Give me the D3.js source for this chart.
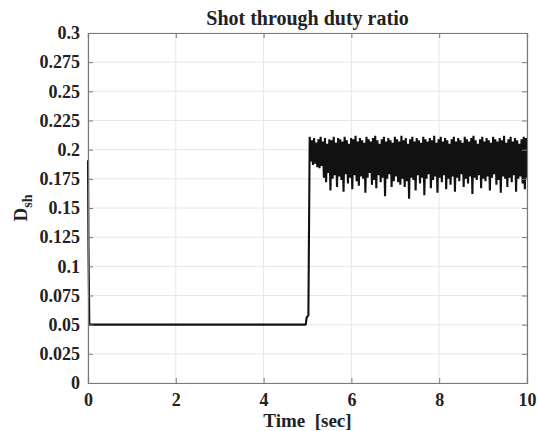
<!DOCTYPE html>
<html>
<head>
<meta charset="utf-8">
<script src="https://cdn.jsdelivr.net/npm/d3@7"></script>
<style>
  body { margin: 0; background: #fff; }
  text { font-family: "Liberation Serif", "Times New Roman", serif; font-weight: bold; fill: #222; }
</style>
</head>
<body>
<div id="chart"></div>
<script>
// start-up and step part of the trace: [time, value]
const stepTimes = [0, 0.01, 0.03, 4.96, 4.98, 5.02, 5.05];
const stepValues = [0.191, 0.12, 0.05, 0.05, 0.056, 0.058, 0.21];

// noisy part after the step, alternating peak / trough samples
const noiseStart = 5.05;
const noiseEnd = 10;
const noiseHigh = [
  0.211,0.208,0.210,0.206,0.209,0.211,0.207,0.210,0.205,0.209,
  0.208,0.211,0.206,0.210,0.209,0.207,0.211,0.208,0.205,0.210,
  0.209,0.212,0.207,0.210,0.208,0.206,0.211,0.209,0.207,0.210,
  0.212,0.208,0.205,0.209,0.211,0.207,0.210,0.208,0.206,0.211,
  0.209,0.207,0.212,0.208,0.210,0.205,0.209,0.211,0.207,0.210,
  0.208,0.206,0.211,0.209,0.207,0.210,0.208,0.212,0.206,0.209,
  0.211,0.207,0.210,0.208,0.205,0.209,0.211,0.207,0.210,0.208,
  0.206,0.211,0.209,0.207,0.210,0.212,0.208,0.205,0.209,0.211,
  0.207,0.210,0.208,0.206,0.211,0.209,0.207,0.210,0.208,0.212,
  0.206,0.209,0.211,0.207,0.210,0.208,0.205,0.209,0.211,0.210
];
const noiseLow = [
  0.190,0.187,0.188,0.185,0.184,0.186,0.176,0.172,0.180,0.165,
  0.175,0.178,0.168,0.177,0.174,0.164,0.179,0.171,0.176,0.166,
  0.178,0.173,0.169,0.177,0.175,0.163,0.176,0.180,0.170,0.174,
  0.167,0.178,0.172,0.176,0.160,0.175,0.179,0.168,0.173,0.177,
  0.172,0.170,0.175,0.168,0.173,0.158,0.176,0.174,0.165,0.178,
  0.171,0.176,0.161,0.175,0.179,0.167,0.174,0.177,0.163,0.176,
  0.172,0.178,0.166,0.175,0.170,0.177,0.164,0.176,0.173,0.179,
  0.168,0.175,0.171,0.177,0.162,0.176,0.174,0.178,0.167,0.175,
  0.173,0.177,0.165,0.176,0.179,0.170,0.174,0.163,0.177,0.175,
  0.168,0.176,0.172,0.178,0.164,0.175,0.177,0.171,0.166,0.176
];

const xTicks = [0, 2, 4, 6, 8, 10];
const yTicks = [0, 0.025, 0.05, 0.075, 0.1, 0.125, 0.15, 0.175, 0.2, 0.225, 0.25, 0.275, 0.3];

const width = 538;
const height = 431;
const margin = { top: 33, right: 11, bottom: 48, left: 88 };
const iw = width - margin.left - margin.right;
const ih = height - margin.top - margin.bottom;

const svg = d3.select("#chart").append("svg")
  .attr("width", width)
  .attr("height", height);

const g = svg.append("g").attr("transform", `translate(${margin.left},${margin.top})`);

const x = d3.scaleLinear().domain([0, 10]).range([0, iw]);
const y = d3.scaleLinear().domain([0, 0.3]).range([ih, 0]);

// grid
g.append("g").selectAll("line").data(xTicks).join("line")
  .attr("x1", d => x(d)).attr("x2", d => x(d))
  .attr("y1", 0).attr("y2", ih)
  .attr("stroke", "#e6e6e6");
g.append("g").selectAll("line").data(yTicks).join("line")
  .attr("x1", 0).attr("x2", iw)
  .attr("y1", d => y(d)).attr("y2", d => y(d))
  .attr("stroke", "#e6e6e6");

// trace
const pts = stepTimes.map((t, i) => [t, stepValues[i]]);
const n = noiseHigh.length * 2;
for (let i = 0; i < n; i++) {
  const t = noiseStart + (noiseEnd - noiseStart) * i / (n - 1);
  const v = i % 2 === 0 ? noiseHigh[i / 2] : noiseLow[(i - 1) / 2];
  pts.push([t, v]);
}
const line = d3.line().x(d => x(d[0])).y(d => y(d[1]));
g.append("path")
  .datum(pts)
  .attr("fill", "none")
  .attr("stroke", "#111")
  .attr("stroke-width", 2.1)
  .attr("stroke-linejoin", "bevel")
  .attr("d", line);

// axes (ticks inward on all four sides)
const axisColor = "#7a7a7a";
const xb = g.append("g").attr("transform", `translate(0,${ih})`)
  .call(d3.axisBottom(x).tickValues(xTicks).tickSize(-5).tickPadding(10).tickFormat(d3.format("d")));
const xt = g.append("g")
  .call(d3.axisTop(x).tickValues(xTicks).tickSize(-5).tickFormat(""));
const yl = g.append("g")
  .call(d3.axisLeft(y).tickValues(yTicks).tickSize(-5).tickPadding(8).tickFormat(d => String(+d.toFixed(3))));
const yr = g.append("g").attr("transform", `translate(${iw},0)`)
  .call(d3.axisRight(y).tickValues(yTicks).tickSize(-5).tickFormat(""));

[xb, xt, yl, yr].forEach(a => {
  a.select(".domain").attr("stroke", axisColor).attr("stroke-width", 1.2);
  a.selectAll(".tick line").attr("stroke", axisColor);
  a.selectAll("text").attr("font-size", 18).attr("fill", "#2a2a2a")
    .style("font-family", '"Liberation Serif", serif').style("font-weight", "bold");
});

// title and labels
svg.append("text")
  .attr("x", margin.left + iw / 2).attr("y", 25)
  .attr("text-anchor", "middle")
  .attr("font-size", 20)
  .text("Shot through duty ratio");

svg.append("text")
  .attr("x", margin.left + iw / 2).attr("y", 427)
  .attr("text-anchor", "middle")
  .attr("font-size", 19)
  .attr("xml:space", "preserve")
  .text("Time  [sec]");

const yLab = svg.append("text")
  .attr("transform", `translate(27,${margin.top + ih / 2}) rotate(-90)`)
  .attr("text-anchor", "middle")
  .attr("font-size", 19);
yLab.append("tspan").text("D");
yLab.append("tspan").attr("font-size", 14).attr("dy", 5).text("sh");
</script>
</body>
</html>
